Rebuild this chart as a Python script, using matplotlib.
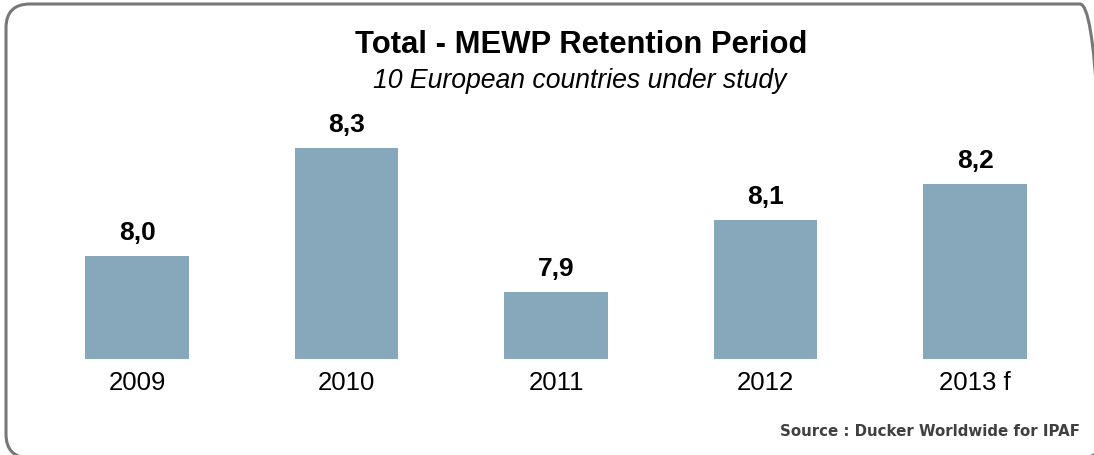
import matplotlib
matplotlib.use("Agg")
import matplotlib.pyplot as plt
from matplotlib.patches import FancyBboxPatch

years = ["2009", "2010", "2011", "2012", "2013 f"]
retention = [8.0, 8.3, 7.9, 8.1, 8.2]
value_labels = ["8,0", "8,3", "7,9", "8,1", "8,2"]

BAR_COLOR = "#87a7ba"
BORDER_COLOR = "#777777"

plt.rcParams["font.family"] = ["Liberation Sans", "DejaVu Sans"]

W, H = 1094, 455
fig = plt.figure(figsize=(W / 100, H / 100), dpi=100)

# background axes in pixel units (origin bottom-left), for the rounded frame
# which runs off the right and bottom edges like the original
bg = fig.add_axes([0, 0, 1, 1])
bg.set_xlim(0, W)
bg.set_ylim(0, H)
bg.set_autoscale_on(False)
bg.axis("off")
bg.add_patch(FancyBboxPatch((6, H - 458), 1104 - 6, 458 - 4,
                            boxstyle="round,pad=0,rounding_size=24",
                            fill=False, ec=BORDER_COLOR, lw=2.2,
                            clip_on=False))

# axes: bar area
x0, x1 = 32.25, 1079.75
yb, yt = 359, 100
ax = fig.add_axes([x0 / W, (H - yb) / H, (x1 - x0) / W, (yb - yt) / H])
ybase = 7.714
ax.set_ylim(ybase, ybase + (yb - yt) / 360)
ax.set_xlim(-0.5, len(years) - 0.5)

xs = range(len(years))
ax.bar(xs, retention, width=0.496, color=BAR_COLOR)
for x, v, lab in zip(xs, retention, value_labels):
    ax.annotate(lab, (x, v), xytext=(0, 8), textcoords="offset points",
                ha="center", va="bottom", fontsize=19, fontweight="bold")

ax.set_xticks(list(xs))
ax.set_xticklabels(years, fontsize=18.5)
ax.tick_params(axis="x", length=0, pad=9)
ax.set_yticks([])
for s in ax.spines.values():
    s.set_visible(False)
ax.patch.set_alpha(0)

fig.text(581 / W, 1 - 45 / H, "Total - MEWP Retention Period",
         ha="center", va="center", fontsize=22.3, fontweight="bold")
fig.text(580 / W, 1 - 81 / H, "10 European countries under study",
         ha="center", va="center", fontsize=19.2, style="italic")
fig.text(1080 / W, 1 - 432 / H, "Source : Ducker Worldwide for IPAF",
         ha="right", va="center", fontsize=10.8, fontweight="bold",
         color="#404040", family="DejaVu Sans")

fig.savefig("out.png", dpi=100)
